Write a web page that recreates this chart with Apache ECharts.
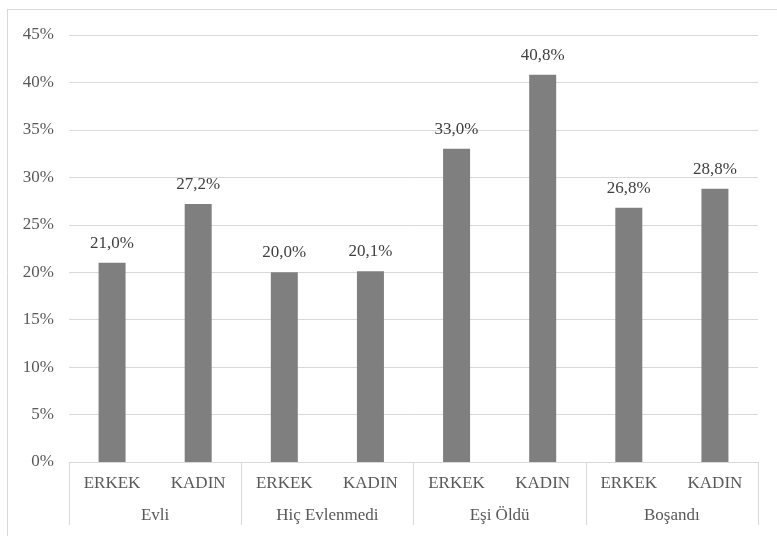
<!DOCTYPE html>
<html>
<head>
<meta charset="utf-8">
<script src="https://cdn.jsdelivr.net/npm/echarts@6/dist/echarts.min.js"></script>
<style>
html,body{margin:0;padding:0;background:#fff;}
#chart{width:777px;height:536px;}
</style>
</head>
<body>
<div id="chart"></div>
<script>
var genders = ['ERKEK','KADIN','ERKEK','KADIN','ERKEK','KADIN','ERKEK','KADIN'];
var groups = ['Evli','Hiç Evlenmedi','Eşi Öldü','Boşandı'];
var values = [21.0, 27.2, 20.0, 20.1, 33.0, 40.8, 26.8, 28.8];
var yTicks = [0, 5, 10, 15, 20, 25, 30, 35, 40, 45];

var font = '"Liberation Serif", "Times New Roman", serif';
var chart = echarts.init(document.getElementById('chart'), null, {renderer:'canvas'});
chart.setOption({
  backgroundColor:'#fff',
  animation:false,
  grid:{left:69, right:19, top:35, bottom:74},
  graphic:[
    {type:'line', shape:{x1:7, y1:9.5, x2:777, y2:9.5}, style:{stroke:'#d9d9d9', lineWidth:1}},
    {type:'line', shape:{x1:7.5, y1:9, x2:7.5, y2:536}, style:{stroke:'#d9d9d9', lineWidth:1}}
  ],
  xAxis:[
    {type:'category', data:genders, position:'bottom',
     axisLine:{show:true, lineStyle:{color:'#d9d9d9', width:1}},
     axisTick:{show:false},
     axisLabel:{color:'#595959', fontFamily:font, fontSize:17, margin:13, interval:0}},
    {type:'category', data:groups, position:'bottom', offset:0,
     axisLine:{show:false},
     axisTick:{show:true, length:63, interval:0, lineStyle:{color:'#d9d9d9', width:1}},
     axisLabel:{color:'#595959', fontFamily:font, fontSize:17, margin:45, interval:0}}
  ],
  yAxis:{type:'value', min:yTicks[0], max:yTicks[yTicks.length-1], interval:5,
    axisLine:{show:false}, axisTick:{show:false},
    splitLine:{lineStyle:{color:'#d9d9d9', width:1}},
    axisLabel:{formatter:'{value}%', color:'#595959', fontFamily:font, fontSize:17, margin:15}},
  series:[{
    type:'bar', data:values, xAxisIndex:0, barWidth:27,
    itemStyle:{color:'#7f7f7f'},
    label:{show:true, position:'top', distance:11, color:'#404040', fontFamily:font, fontSize:17,
      formatter:function(p){return p.value.toFixed(1).replace('.', ',') + '%';}}
  }]
});
</script>
</body>
</html>
